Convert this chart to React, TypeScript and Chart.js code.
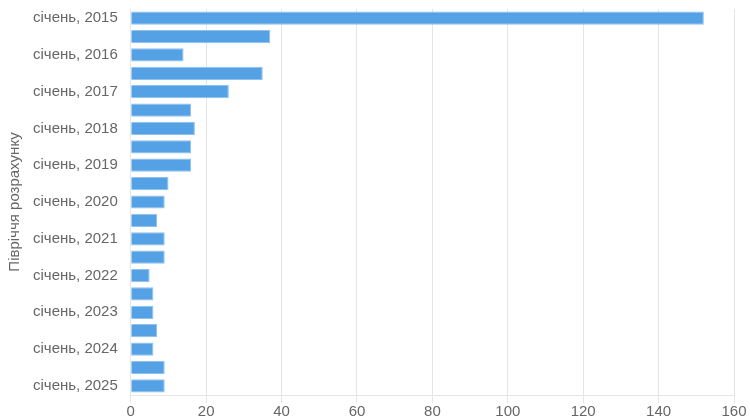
import React, { useEffect, useRef } from "react";
import { Chart, registerables } from "chart.js";

Chart.register(...registerables);

const years = [2015, 2016, 2017, 2018, 2019, 2020, 2021, 2022, 2023, 2024, 2025];
const categories: string[] = [];
years.forEach((y, i) => {
  categories.push(`січень, ${y}`);
  if (i < years.length - 1) categories.push(`липень, ${y}`);
});
const values = [152, 37, 14, 35, 26, 16, 17, 16, 16, 10, 9, 7, 9, 9, 5, 6, 6, 7, 6, 9, 9];
const axisTitle = "Півріччя розрахунку";
const xTicksMax = 160;
const xTicksStep = 20;

export default function App() {
  const ref = useRef<HTMLCanvasElement>(null);
  useEffect(() => {
    if (!ref.current) return;
    const font = { family: "'Liberation Sans', Arial, sans-serif", size: 15 };
    const chart = new Chart(ref.current, {
      type: "bar",
      data: {
        labels: categories,
        datasets: [
          {
            data: values,
            backgroundColor: "#55a1e6",
            borderColor: "#8fc0ee",
            borderWidth: 1,
          },
        ],
      },
      options: {
        indexAxis: "y",
        animation: false,
        responsive: true,
        maintainAspectRatio: false,
        layout: { padding: { top: 0, right: 16, bottom: 0, left: 2 } },
        plugins: { legend: { display: false }, tooltip: { enabled: false } },
        scales: {
          x: {
            min: 0,
            max: xTicksMax,
            ticks: { stepSize: xTicksStep, color: "#666", font, padding: 0 },
            grid: { color: "#e5e5e5", drawTicks: true },
            border: { color: "#e5e5e5" },
          },
          y: {
            ticks: {
              color: "#666",
              font,
              autoSkip: false,
              padding: 5,
              callback: (_v: any, i: number) => (i % 2 === 0 ? categories[i] : ""),
            },
            grid: { display: false },
            border: { color: "#e5e5e5" },
            title: { display: true, text: axisTitle, color: "#666", font },
          },
        },
      },
    });
    return () => chart.destroy();
  }, []);
  return (
    <div style={{ position: "fixed", left: 0, top: -5, width: 750, height: 426, background: "#fff" }}>
      <canvas ref={ref} />
    </div>
  );
}
